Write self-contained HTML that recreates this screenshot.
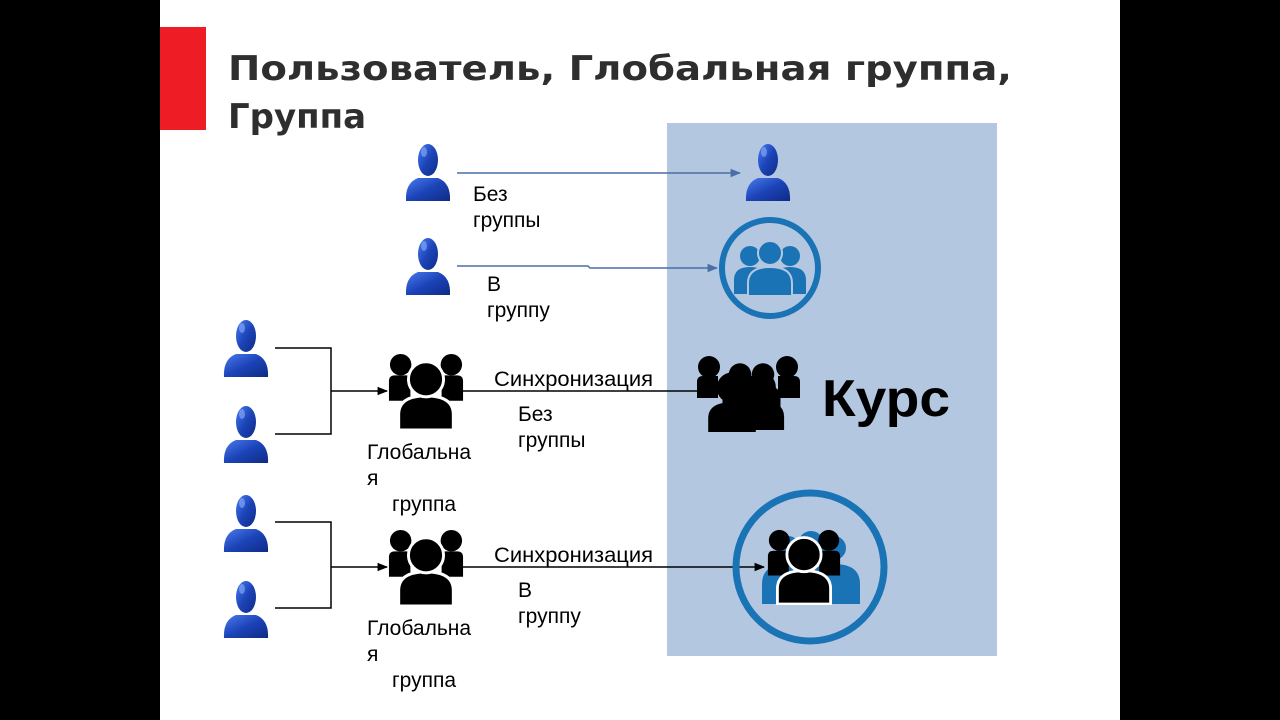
<!DOCTYPE html>
<html><head><meta charset="utf-8"><style>
html,body{margin:0;padding:0;background:#000;}
svg{display:block;}
</style></head><body>
<svg width="1280" height="720" viewBox="0 0 1280 720" xmlns="http://www.w3.org/2000/svg">
<defs>
<linearGradient id="bg" x1="0" y1="0" x2="1" y2="1">
<stop offset="0" stop-color="#4a7cf0"/><stop offset="0.5" stop-color="#1c44b8"/><stop offset="1" stop-color="#0e2a86"/>
</linearGradient>
<symbol id="p" viewBox="0 0 48 58">
<path d="M2,58 Q1,40 14,35 L34,35 Q47,40 46,58 Z" fill="url(#bg)"/>
<ellipse cx="24" cy="17" rx="10" ry="16" fill="url(#bg)"/>
<ellipse cx="20" cy="9" rx="3" ry="5" fill="#8fb0ff" opacity="0.6"/>
</symbol>
<symbol id="g" viewBox="0 0 80 80">
<circle cx="14" cy="13" r="11"/><path d="M2,50 V30 Q2,24 8,24 H24 V50 Z"/>
<circle cx="66" cy="13" r="11"/><path d="M78,50 V30 Q78,24 72,24 H56 V50 Z"/>
<path d="M12,80 V64 Q12,45 40,45 Q68,45 68,64 V80 Z" stroke="#fff" stroke-width="3"/>
<circle cx="40" cy="28" r="18" stroke="#fff" stroke-width="3"/>
</symbol>
<symbol id="gk" viewBox="0 0 80 80">
<circle cx="40" cy="28" r="18"/>
<path d="M12,80 V64 Q12,45 40,45 Q68,45 68,64 V80 Z"/>
</symbol>
<marker id="ab" viewBox="0 0 10 10" refX="9" refY="5" markerWidth="7" markerHeight="7" orient="auto"><path d="M0,1 L10,5 L0,9 Z" fill="#4a6fa8"/></marker>
<marker id="ak" viewBox="0 0 10 10" refX="9" refY="5" markerWidth="7" markerHeight="7" orient="auto"><path d="M0,1 L10,5 L0,9 Z" fill="#000"/></marker>
</defs>
<rect x="160" y="0" width="960" height="720" fill="#fff"/>
<rect x="160" y="27" width="46" height="103" fill="#ee1c24"/>
<text x="228" y="80" style="font-family:'DejaVu Sans',sans-serif;font-weight:bold;font-size:34px" fill="#2e2e2e" textLength="784" lengthAdjust="spacingAndGlyphs">Пользователь, Глобальная группа,</text>
<text x="228" y="128" style="font-family:'DejaVu Sans',sans-serif;font-weight:bold;font-size:34px" fill="#2e2e2e">Группа</text>
<rect x="667" y="123" width="330" height="533" fill="#b4c7e0"/>

<g stroke="#4a6fa8" stroke-width="1.5" fill="none">
<line x1="457" y1="173" x2="740" y2="173" marker-end="url(#ab)"/>
<polyline points="457,266 588,266 590,268 717,268" marker-end="url(#ab)"/>
</g>
<g stroke="#000" stroke-width="1.5" fill="none">
<polyline points="275,348 331,348 331,434 275,434"/>
<line x1="331" y1="391" x2="387" y2="391" marker-end="url(#ak)"/>
<line x1="463" y1="391" x2="700" y2="391"/>
<polyline points="275,522 331,522 331,608 275,608"/>
<line x1="331" y1="567" x2="387" y2="567" marker-end="url(#ak)"/>
<line x1="463" y1="567" x2="764" y2="567" marker-end="url(#ak)"/>
</g>

<use href="#p" x="404" y="143" width="48" height="58"/>
<use href="#p" x="404" y="237" width="48" height="58"/>
<use href="#p" x="744" y="143" width="48" height="58"/>
<use href="#p" x="222" y="319" width="48" height="58"/>
<use href="#p" x="222" y="405" width="48" height="58"/>
<use href="#p" x="222" y="494" width="48" height="58"/>
<use href="#p" x="222" y="580" width="48" height="58"/>

<use href="#g" x="387" y="352" width="78" height="78"/>
<use href="#g" x="387" y="528" width="78" height="78"/>

<!-- Kurs group -->
<g fill="#000">
<circle cx="709" cy="367" r="11"/><path d="M697,398 V382 Q697,376 703,376 H718 V398 Z"/>
<circle cx="787" cy="367" r="11"/><path d="M800,398 V382 Q800,376 794,376 H778 V398 Z"/>
<use href="#gk" x="715" y="352" width="50" height="60"/>
<use href="#gk" x="738" y="352" width="50" height="60"/>
<use href="#gk" x="698" y="364" width="68" height="68"/>
<use href="#gk" x="728" y="364" width="66" height="66"/>
</g>
<text x="822" y="416" style="font-family:'Liberation Sans',sans-serif;font-weight:bold;font-size:52px" fill="#000" textLength="128" lengthAdjust="spacingAndGlyphs">Курс</text>

<circle cx="770" cy="268" r="48" fill="none" stroke="#1a73b5" stroke-width="6"/>
<g fill="#1a73b5">
<circle cx="750" cy="256" r="10"/><path d="M734,294 V280 Q734,267 750,267 Q766,267 766,280 V294 Z"/>
<circle cx="790" cy="256" r="10"/><path d="M774,294 V280 Q774,267 790,267 Q806,267 806,280 V294 Z"/>
<circle cx="770" cy="253" r="12" stroke="#b4c7e0" stroke-width="2"/><path d="M748,296 V283 Q748,267 770,267 Q792,267 792,283 V296 Z" stroke="#b4c7e0" stroke-width="2"/>
</g>

<circle cx="810" cy="567" r="74" fill="none" stroke="#1a73b5" stroke-width="7"/>
<g fill="#1a73b5">
<circle cx="788" cy="548" r="12"/><path d="M762,604 V584 Q762,564 788,564 Q814,564 814,584 V604 Z"/>
<circle cx="834" cy="548" r="12"/><path d="M808,604 V584 Q808,564 834,564 Q860,564 860,584 V604 Z"/>
<circle cx="811" cy="544" r="13"/>
</g>
<use href="#g" x="766" y="527" width="76" height="78"/>

<g style="font-family:'Liberation Sans',sans-serif;font-size:21px" fill="#000">
<text x="473" y="201">Без</text><text x="473" y="227">группы</text>
<text x="487" y="291">В</text><text x="487" y="317">группу</text>
<text x="494" y="386" textLength="159" lengthAdjust="spacingAndGlyphs">Синхронизация</text>
<text x="518" y="421">Без</text><text x="518" y="447">группы</text>
<text x="367" y="459">Глобальна</text><text x="367" y="485">я</text><text x="392" y="511">группа</text>
<text x="494" y="562" textLength="159" lengthAdjust="spacingAndGlyphs">Синхронизация</text>
<text x="518" y="597">В</text><text x="518" y="623">группу</text>
<text x="367" y="635">Глобальна</text><text x="367" y="661">я</text><text x="392" y="687">группа</text>
</g>
</svg>
</body></html>
